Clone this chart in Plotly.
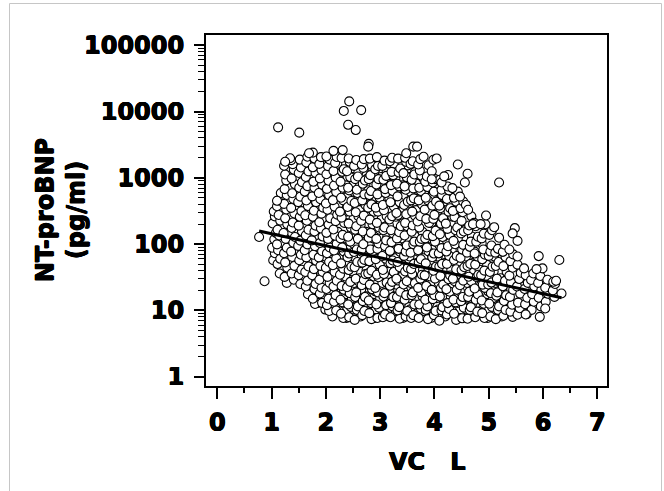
import plotly.graph_objects as go

# ---- data (VC in litres, NT-proBNP in pg/ml) ----
vc = [
    1.03, 1.06, 1.01, 1.05, 1.08, 1.02, 1.06, 1.04,
    1.15, 1.11, 1.16, 1.12, 1.10, 1.14, 1.11, 1.16, 1.13, 1.10, 1.12, 1.17,
    1.28, 1.24, 1.29, 1.25, 1.23, 1.28, 1.26, 1.22, 1.29, 1.25, 1.27, 1.23, 1.28, 1.24, 1.27, 1.25, 1.23,
    1.41, 1.37, 1.42, 1.38, 1.36, 1.40, 1.43, 1.37, 1.39, 1.42, 1.36, 1.40, 1.38, 1.43, 1.37, 1.41, 1.39, 1.36,
    1.53, 1.50, 1.55, 1.51, 1.54, 1.49, 1.53, 1.56, 1.50, 1.52, 1.55, 1.49, 1.53, 1.51, 1.56, 1.50, 1.54, 1.52,
    1.67, 1.63, 1.66, 1.62, 1.68, 1.64, 1.61, 1.66, 1.63, 1.68, 1.65, 1.62, 1.67, 1.64, 1.61, 1.66, 1.63, 1.68, 1.64, 1.66,
    1.80, 1.76, 1.79, 1.81, 1.75, 1.78, 1.82, 1.77, 1.80, 1.74, 1.79, 1.81, 1.76, 1.78, 1.82, 1.75, 1.79, 1.77, 1.81, 1.76, 1.79,
    1.93, 1.89, 1.92, 1.88, 1.94, 1.90, 1.87, 1.93, 1.89, 1.94, 1.91, 1.88, 1.92, 1.95, 1.90, 1.87, 1.93, 1.89, 1.92, 1.88, 1.91,
    2.06, 2.02, 2.05, 2.01, 2.07, 2.03, 2.00, 2.06, 2.02, 2.07, 2.04, 2.01, 2.05, 2.08, 2.03, 2.00, 2.06, 2.02, 2.05, 2.01, 2.04, 2.07,
    2.19, 2.15, 2.18, 2.14, 2.20, 2.16, 2.13, 2.19, 2.15, 2.20, 2.17, 2.14, 2.18, 2.21, 2.16, 2.13, 2.19, 2.15, 2.18, 2.14, 2.17, 2.20,
    2.32, 2.28, 2.31, 2.27, 2.33, 2.29, 2.26, 2.32, 2.28, 2.33, 2.30, 2.27, 2.31, 2.34, 2.29, 2.26, 2.32, 2.28, 2.31, 2.27, 2.30, 2.33, 2.29,
    2.43, 2.46, 2.41, 2.44, 2.39, 2.45, 2.42, 2.47, 2.40, 2.43, 2.45, 2.41, 2.46, 2.42, 2.44, 2.40, 2.47, 2.43, 2.41, 2.45, 2.39, 2.44, 2.42,
    2.53, 2.57, 2.59, 2.54, 2.56, 2.60, 2.55, 2.53, 2.58, 2.52, 2.57, 2.59, 2.54, 2.56, 2.60, 2.55, 2.53, 2.58, 2.57, 2.54, 2.59, 2.52, 2.56,
    2.67, 2.71, 2.68, 2.72, 2.66, 2.70, 2.73, 2.67, 2.71, 2.66, 2.69, 2.72, 2.68, 2.65, 2.70, 2.73, 2.67, 2.71, 2.68, 2.72, 2.69, 2.66, 2.70,
    2.84, 2.80, 2.83, 2.79, 2.85, 2.81, 2.78, 2.84, 2.80, 2.85, 2.82, 2.79, 2.83, 2.86, 2.81, 2.78, 2.84, 2.80, 2.83, 2.79, 2.82, 2.85, 2.81,
    2.95, 2.98, 2.93, 2.96, 2.91, 2.97, 2.94, 2.99, 2.92, 2.95, 2.97, 2.93, 2.98, 2.94, 2.96, 2.92, 2.99, 2.95, 2.93, 2.97, 2.91, 2.96, 2.94,
    3.05, 3.09, 3.11, 3.06, 3.08, 3.12, 3.07, 3.05, 3.10, 3.04, 3.09, 3.11, 3.06, 3.08, 3.12, 3.07, 3.05, 3.10, 3.09, 3.06, 3.11, 3.04, 3.08,
    3.19, 3.23, 3.20, 3.24, 3.18, 3.22, 3.25, 3.19, 3.23, 3.18, 3.21, 3.24, 3.20, 3.17, 3.22, 3.25, 3.19, 3.23, 3.20, 3.24, 3.21, 3.18, 3.22,
    3.36, 3.32, 3.35, 3.31, 3.37, 3.33, 3.30, 3.36, 3.32, 3.37, 3.34, 3.31, 3.35, 3.38, 3.33, 3.30, 3.36, 3.32, 3.35, 3.31, 3.34, 3.37, 3.33,
    3.47, 3.50, 3.45, 3.48, 3.43, 3.49, 3.46, 3.51, 3.44, 3.47, 3.49, 3.45, 3.50, 3.46, 3.48, 3.44, 3.51, 3.47, 3.45, 3.49, 3.43, 3.48, 3.46,
    3.57, 3.61, 3.63, 3.58, 3.60, 3.64, 3.59, 3.57, 3.62, 3.56, 3.61, 3.63, 3.58, 3.60, 3.64, 3.59, 3.57, 3.62, 3.61, 3.58, 3.63, 3.56, 3.60,
    3.71, 3.75, 3.72, 3.76, 3.70, 3.74, 3.77, 3.71, 3.75, 3.70, 3.73, 3.76, 3.72, 3.69, 3.74, 3.77, 3.71, 3.75, 3.72, 3.76, 3.73, 3.70, 3.74,
    3.88, 3.84, 3.87, 3.83, 3.89, 3.85, 3.82, 3.88, 3.84, 3.89, 3.86, 3.83, 3.87, 3.90, 3.85, 3.82, 3.88, 3.84, 3.87, 3.83, 3.86, 3.89,
    3.99, 4.02, 3.97, 4.00, 3.95, 4.01, 3.98, 4.03, 3.96, 3.99, 4.01, 3.97, 4.02, 3.98, 4.00, 3.96, 4.03, 3.99, 3.97, 4.01, 3.95,
    4.09, 4.13, 4.15, 4.10, 4.12, 4.16, 4.11, 4.09, 4.14, 4.08, 4.13, 4.15, 4.10, 4.12, 4.16, 4.11, 4.09, 4.14, 4.13, 4.10,
    4.23, 4.27, 4.24, 4.28, 4.22, 4.26, 4.29, 4.23, 4.27, 4.22, 4.25, 4.28, 4.24, 4.21, 4.26, 4.29, 4.23, 4.27, 4.24,
    4.40, 4.36, 4.39, 4.35, 4.41, 4.37, 4.34, 4.40, 4.36, 4.41, 4.38, 4.35, 4.39, 4.42, 4.37, 4.34, 4.40, 4.36,
    4.51, 4.54, 4.49, 4.52, 4.47, 4.53, 4.50, 4.55, 4.48, 4.51, 4.53, 4.49, 4.54, 4.50, 4.52, 4.48,
    4.61, 4.65, 4.67, 4.62, 4.64, 4.68, 4.63, 4.61, 4.66, 4.60, 4.65, 4.67, 4.62, 4.64, 4.68,
    4.75, 4.79, 4.76, 4.80, 4.74, 4.78, 4.81, 4.75, 4.79, 4.74, 4.77, 4.80, 4.76, 4.73,
    4.92, 4.88, 4.91, 4.87, 4.93, 4.89, 4.86, 4.92, 4.88, 4.93, 4.90, 4.87, 4.91, 4.94,
    5.03, 5.06, 5.01, 5.04, 4.99, 5.05, 5.02, 5.07, 5.00, 5.03, 5.05, 5.01, 5.06,
    5.13, 5.17, 5.19, 5.14, 5.16, 5.20, 5.15, 5.13, 5.18, 5.12, 5.17, 5.19,
    5.27, 5.31, 5.28, 5.32, 5.26, 5.30, 5.33, 5.27, 5.31, 5.26, 5.29,
    5.44, 5.40, 5.43, 5.39, 5.45, 5.41, 5.38, 5.44, 5.40, 5.45,
    5.53, 5.57, 5.54, 5.58, 5.52, 5.56, 5.59, 5.53,
    5.70, 5.67, 5.71, 5.66, 5.72, 5.68, 5.65,
    5.79, 5.83, 5.80, 5.84, 5.78, 5.82,
    5.96, 5.92, 5.97, 5.91, 5.95,
    6.05, 6.09, 6.04, 6.08,
    6.21, 6.18, 6.22,
]
bnp = [
    57, 73, 88, 118, 148, 205, 262, 310,
    36, 50, 60, 81, 99, 135, 165, 226, 275, 372, 455, 590,
    26, 32, 44, 53, 73, 88, 120, 147, 200, 245, 333, 405, 550, 675, 915, 1120, 1520,
    29, 36, 47, 64, 77, 105, 128, 175, 212, 290, 352, 480, 585, 800, 975, 1320, 1610, 1850,
    25, 34, 41, 57, 69, 94, 113, 156, 190, 258, 315, 430, 520, 710, 860, 1180, 1430, 1880,
    17.5, 23, 28, 38, 46, 63, 81, 99, 136, 165, 225, 272, 375, 455, 620, 750, 1030, 1250, 1700, 2080,
    12.5, 15, 21, 25, 34, 42, 56, 69, 93, 114, 155, 190, 258, 318, 430, 525, 710, 870, 1180, 1440, 1950,
    13, 18, 22, 29, 38, 47, 63, 78, 104, 130, 172, 214, 288, 355, 475, 590, 790, 980, 1310, 1620, 2050,
    9.8, 12, 15, 21, 26, 32, 44, 54, 73, 89, 120, 148, 198, 245, 330, 410, 545, 680, 905, 1130, 1500, 1880,
    10, 13.5, 17, 23, 28, 38, 48, 61, 80, 101, 134, 166, 222, 278, 368, 460, 610, 765, 1010, 1270, 1680, 2060,
    7.7, 8.9, 13.2, 14.5, 20.5, 23.4, 34.5, 42.7, 51.3, 77.8, 88.9, 122, 138, 209, 251, 309, 457, 501, 708, 870, 1231, 1349, 1995,
    7.9, 11.3, 12.3, 18.2, 22.4, 26.9, 40.6, 45.8, 63.4, 72, 109, 129, 178, 204, 309, 363, 447, 646, 708, 1023, 1258, 1738, 1958,
    7.2, 10.2, 11.5, 15.9, 18.7, 27.6, 30.1, 44.7, 53.7, 76.1, 83, 120, 165, 186, 263, 302, 417, 589, 661, 955, 1047, 1513, 1861,
    8.5, 9.8, 13.8, 15.9, 24, 28.8, 35.3, 52.6, 57.8, 82.7, 99.7, 145, 155, 224, 269, 389, 457, 563, 812, 912, 1412, 1585, 1913,
    7.4, 9.1, 12.9, 14.1, 20.9, 24.5, 36.2, 39.8, 55, 74.3, 83, 125, 148, 199, 234, 355, 398, 549, 631, 955, 1096, 1549, 1949,
    7.7, 11, 12.3, 18.7, 21.9, 31.6, 34.5, 49.1, 59.2, 84.7, 102, 120, 178, 209, 309, 355, 502, 563, 794, 955, 1349, 1514, 2050,
    7.9, 8.7, 12, 16.2, 18.2, 26.3, 35.4, 40.8, 60.3, 66.2, 93.1, 114, 162, 178, 263, 324, 389, 589, 676, 933, 1071, 1513, 1819,
    7.9, 11.5, 12.9, 15.9, 23.5, 26.9, 37.9, 51.5, 56.5, 79, 107, 145, 162, 235, 263, 371, 427, 631, 776, 1096, 1230, 1780, 2003,
    7.5, 10, 11.2, 15.9, 19.1, 28.2, 30.1, 44.7, 53.7, 76.1, 84.9, 122, 151, 186, 275, 295, 427, 525, 742, 813, 1202, 1380, 1949,
    8.1, 9.8, 14.5, 17, 24.6, 27.5, 38.7, 43.8, 66.5, 77.2, 95.2, 135, 186, 209, 282, 389, 437, 661, 741, 1023, 1175, 1738, 2003,
    7.7, 8.5, 12.3, 17, 18.7, 25.7, 35.4, 41.7, 50.2, 74.3, 99.7, 109, 154, 191, 269, 309, 457, 490, 692, 933, 1122, 1621, 1778,
    7.7, 10.7, 12.3, 18.7, 21.9, 30.2, 34.5, 52.6, 59.2, 80.8, 109, 120, 178, 219, 263, 398, 457, 631, 708, 1072, 1288, 1585, 1913,
    7.4, 10.2, 11.5, 14.5, 21.4, 23.4, 33.8, 44.7, 51.3, 77.8, 88.9, 122, 138, 209, 240, 331, 457, 501, 725, 870, 1047, 1549,
    8.5, 9.8, 14.8, 17, 20.4, 30.2, 39.7, 45.8, 63.4, 72, 109, 132, 159, 240, 276, 380, 437, 617, 851, 955, 1258,
    7.0, 10, 11.2, 16.2, 21.9, 24.5, 33, 45.8, 50.2, 72.6, 86.9, 128, 141, 204, 245, 347, 380, 549, 661, 933,
    8.7, 10.5, 12.9, 19.1, 20.9, 29.5, 33.7, 50.3, 66.5, 77.2, 93, 138, 170, 204, 309, 347, 479, 646, 741,
    7.2, 8.9, 13.2, 14.5, 20.5, 27.6, 30.1, 41.7, 57.6, 66.2, 99.7, 112, 162, 178, 257, 317, 437, 501,
    7.6, 11, 13.8, 15.9, 24, 28.1, 40.6, 44.8, 62, 82.7, 97.4, 145, 155, 224, 302, 347,
    7.5, 10.2, 11.2, 15.9, 19.1, 27.6, 32.2, 46.8, 50.2, 74.3, 91, 109, 162, 191, 263,
    7.9, 9.6, 14.5, 17.4, 21.4, 31.6, 34.5, 49.1, 64.9, 72, 109, 129, 186, 209,
    7.7, 9.1, 12.6, 14.1, 21.9, 24.5, 33.8, 39.8, 59, 69.4, 83, 122, 144, 199,
    8.1, 11.3, 12.6, 18.2, 24.6, 26.3, 37.9, 45.8, 66.5, 77.2, 95.2, 138, 162,
    7.4, 10.2, 11.5, 16.6, 18.7, 26.9, 30.1, 46.8, 53.7, 74.3, 84.9, 125,
    8.3, 10.2, 13.9, 16.9, 23.1, 27.9, 38.2, 46.5, 64.0, 76.5, 98,
    8.0, 9.6, 12.2, 16.0, 20.4, 26.5, 33.5, 44.1, 55.3, 70,
    8.6, 10.8, 13.1, 17.9, 23, 29.7, 37, 49,
    8.8, 12.4, 15.5, 21, 26, 34, 43,
    10.2, 13.5, 17.5, 23, 28.8, 36,
    11.5, 15.5, 20.5, 26, 33,
    13.5, 17.8, 22, 29,
    16, 20, 25,
]

# further subjects in the densest part of the cloud
vc_fill = [
    1.58, 1.61, 1.57, 1.60, 1.62, 1.58, 1.60, 1.57, 1.61,
    1.73, 1.70, 1.74, 1.71, 1.72, 1.75, 1.70, 1.73, 1.71, 1.74,
    1.86, 1.83, 1.87, 1.84, 1.85, 1.88, 1.83, 1.86, 1.84, 1.87, 1.85,
    1.99, 1.96, 2.00, 1.97, 1.98, 2.01, 1.96, 1.99, 1.97, 2.00, 1.98, 1.96,
    2.12, 2.09, 2.13, 2.10, 2.11, 2.14, 2.09, 2.12, 2.10, 2.13, 2.11, 2.08,
    2.25, 2.22, 2.26, 2.23, 2.24, 2.27, 2.22, 2.25, 2.23, 2.26, 2.24, 2.21,
    2.38, 2.35, 2.39, 2.36, 2.37, 2.40, 2.35, 2.38, 2.36, 2.39, 2.37, 2.34,
    2.51, 2.48, 2.52, 2.49, 2.50, 2.53, 2.48, 2.51, 2.49, 2.52, 2.50, 2.47,
    2.64, 2.61, 2.65, 2.62, 2.63, 2.66, 2.61, 2.64, 2.62, 2.65, 2.63, 2.60,
    2.77, 2.74, 2.78, 2.75, 2.76, 2.79, 2.74, 2.77, 2.75, 2.78, 2.76, 2.73,
    2.90, 2.87, 2.91, 2.88, 2.89, 2.92, 2.87, 2.90, 2.88, 2.91, 2.89, 2.86,
    3.03, 3.00, 3.04, 3.01, 3.02, 3.05, 3.00, 3.03, 3.01, 3.04, 3.02, 2.99,
    3.16, 3.13, 3.17, 3.14, 3.15, 3.18, 3.13, 3.16, 3.14, 3.17, 3.15, 3.12,
    3.29, 3.26, 3.30, 3.27, 3.28, 3.31, 3.26, 3.29, 3.27, 3.30, 3.28, 3.25,
    3.42, 3.39, 3.43, 3.40, 3.41, 3.44, 3.39, 3.42, 3.40, 3.43, 3.41, 3.38,
    3.55, 3.52, 3.56, 3.53, 3.54, 3.57, 3.52, 3.55, 3.53, 3.56, 3.54, 3.51,
    3.68, 3.65, 3.69, 3.66, 3.67, 3.70, 3.65, 3.68, 3.66, 3.69, 3.67, 3.64,
    3.81, 3.78, 3.82, 3.79, 3.80, 3.83, 3.78, 3.81, 3.79, 3.82, 3.80,
    3.94, 3.91, 3.95, 3.92, 3.93, 3.96, 3.91, 3.94, 3.92, 3.95, 3.93,
    4.07, 4.04, 4.08, 4.05, 4.06, 4.09, 4.04, 4.07, 4.05, 4.08,
    4.20, 4.17, 4.21, 4.18, 4.19, 4.22, 4.17, 4.20, 4.18, 4.21,
    4.33, 4.30, 4.34, 4.31, 4.32, 4.35, 4.30, 4.33, 4.31,
    4.46, 4.43, 4.47, 4.44, 4.45, 4.48, 4.43, 4.46,
    4.59, 4.56, 4.60, 4.57, 4.58, 4.61, 4.56,
    4.72, 4.69, 4.73, 4.70, 4.71, 4.74, 4.69,
    4.85, 4.82, 4.86, 4.83, 4.84, 4.87,
    4.98, 4.95, 4.99, 4.96, 4.97, 5.00,
    5.11, 5.08, 5.12, 5.09, 5.10,
    5.24, 5.21, 5.25, 5.22, 5.23,
]
bnp_fill = [
    33, 48, 83, 122, 205, 305, 520, 770, 1300,
    24, 41, 61, 104, 152, 260, 385, 650, 970, 1620,
    13, 20.5, 30.5, 52, 77, 130, 194, 325, 485, 820, 1220,
    10.3, 15.3, 26, 38.5, 65, 97, 163, 243, 410, 612, 1030, 1540,
    8.1, 12.2, 20.6, 30.6, 51.5, 77, 130, 194, 326, 486, 818, 1220,
    9.7, 16.3, 24.3, 41, 61.2, 103, 153, 259, 386, 650, 970, 1630,
    7.7, 13, 19.4, 32.5, 48.6, 82, 122, 206, 307, 516, 770, 1300,
    10.3, 15.3, 25.9, 38.6, 65, 97, 163, 244, 410, 612, 1030, 1540,
    8.1, 12.2, 20.6, 30.6, 51.6, 77, 130, 194, 326, 486, 818, 1220,
    9.7, 16.3, 24.4, 41, 61.2, 103, 153, 259, 386, 650, 970, 1630,
    7.7, 13, 19.4, 32.5, 48.6, 82, 122, 206, 307, 516, 770, 1300,
    10.3, 15.3, 25.9, 38.6, 65, 97, 163, 244, 410, 612, 1030, 1540,
    8.1, 12.2, 20.6, 30.6, 51.6, 77, 130, 194, 326, 486, 818, 1220,
    9.7, 16.3, 24.4, 41, 61.2, 103, 153, 259, 386, 650, 970, 1630,
    7.7, 13, 19.4, 32.5, 48.6, 82, 122, 206, 307, 516, 770, 1300,
    10.3, 15.3, 25.9, 38.6, 65, 97, 163, 244, 410, 612, 1030, 1540,
    8.1, 12.2, 20.6, 30.6, 51.6, 77, 130, 194, 326, 486, 818, 1220,
    9.7, 16.3, 24.4, 41, 61.2, 103, 153, 259, 386, 650, 970,
    7.7, 13, 19.4, 32.5, 48.6, 82, 122, 206, 307, 516, 770,
    10.3, 15.3, 25.9, 38.6, 65, 97, 163, 244, 410, 612,
    8.1, 12.2, 20.6, 30.6, 51.6, 77, 130, 194, 326, 486,
    9.7, 16.3, 24.4, 41, 61.2, 103, 153, 259, 386,
    7.7, 13, 19.4, 32.5, 48.6, 82, 122, 206,
    10.3, 15.3, 25.9, 38.6, 65, 97, 163,
    8.1, 12.2, 20.6, 30.6, 51.6, 77, 130,
    9.7, 16.3, 24.4, 41, 61.2, 103,
    7.7, 13, 19.4, 32.5, 48.6, 82,
    10.3, 15.3, 25.9, 38.6, 65,
    8.1, 12.2, 20.6, 30.6, 51.6,
]

vc_out = [0.77, 0.87, 1.12, 1.51, 2.43, 2.33, 2.65, 2.41, 2.55, 2.79,
          2.78, 1.76, 1.69, 2.14, 2.31, 2.01, 1.34, 1.25, 3.61, 3.68,
          3.48, 3.80, 3.98, 4.04, 4.43, 4.25, 4.61, 4.56, 5.19, 3.95,
          4.13, 4.43, 4.53, 4.58, 4.71, 4.85, 5.10, 5.48, 5.44, 5.53,
          5.38, 5.53, 5.92, 6.30, 5.99, 5.88, 6.19, 6.24, 6.34, 5.94,
          5.68, 6.04, 4.18, 4.33, 4.47, 4.62, 4.95, 1.10]
bnp_out = [128, 27.5, 5770, 4800, 14200, 10200, 10500, 6300, 5250, 3250,
           2950, 2400, 2350, 2550, 2620, 2100, 1970, 1750, 2950, 2950,
           2350, 2080, 1870, 1960, 1590, 1100, 1150, 850, 850, 950,
           850, 620, 440, 390, 200, 200, 180, 174, 145, 112,
           83, 65, 66, 57.5, 43, 42, 27, 28, 18, 8.0,
           8.7, 10.7, 1050, 700, 520, 330, 270, 450]

fit_vc = [0.77, 6.34]
fit_bnp = [158, 15.5]

x_ticks = [0, 1, 2, 3, 4, 5, 6, 7]
y_ticks = [1, 10, 100, 1000, 10000, 100000]
y_ticktext = ["1", "10", "100", "1000", "10000", "100000"]

assert len(vc) == len(bnp), (len(vc), len(bnp))
assert len(vc_fill) == len(bnp_fill), (len(vc_fill), len(bnp_fill))
assert len(vc_out) == len(bnp_out)

FONT = "DejaVu Sans"
HEAVY = "0.45px 0 0 black, -0.45px 0 0 black, 0 0.35px 0 black, 0 -0.35px 0 black"
marker_style = dict(symbol="circle", size=9, color="white",
                    line=dict(color="black", width=1.1))

fig = go.Figure()
fig.add_trace(go.Scatter(x=vc_fill + vc + vc_out, y=bnp_fill + bnp + bnp_out,
                         mode="markers", marker=marker_style,
                         showlegend=False, hoverinfo="skip"))
fig.add_trace(go.Scatter(x=fit_vc, y=fit_bnp, mode="lines",
                         line=dict(color="black", width=3), showlegend=False))

y_minor = [m * 10 ** k for k in range(0, 5) for m in range(2, 10)]
x_minor = [t + 0.5 for t in x_ticks[:-1]]

tickfont = dict(family=FONT, size=24, color="black", weight="bold", shadow=HEAVY)
titlefont = dict(family=FONT, size=24, color="black", weight="bold", shadow=HEAVY)

fig.update_layout(
    width=664, height=491,
    margin=dict(l=206, r=57, t=35, b=105, pad=0),
    paper_bgcolor="white", plot_bgcolor="white",
    font=dict(family=FONT, color="black"),
    xaxis=dict(range=[-0.208, 7.178], tickmode="array", tickvals=x_ticks,
               ticks="outside", ticklen=11, tickwidth=2, tickcolor="black",
               showline=True, linewidth=2, linecolor="black", mirror=True,
               showgrid=False, zeroline=False, tickfont=tickfont,
               ticklabelstandoff=3,
               minor=dict(tickvals=x_minor, ticks="outside", ticklen=5,
                          tickwidth=1.5, tickcolor="black", showgrid=False)),
    yaxis=dict(type="log", range=[-0.140, 5.154], tickmode="array",
               tickvals=y_ticks, ticktext=y_ticktext,
               ticks="outside", ticklen=10, tickwidth=2, tickcolor="black",
               showline=True, linewidth=2, linecolor="black", mirror=True,
               showgrid=False, zeroline=False, tickfont=tickfont,
               ticklabelstandoff=5,
               minor=dict(tickvals=y_minor, ticks="outside", ticklen=6,
                          tickwidth=1, tickcolor="black", showgrid=False)),
    annotations=[
        dict(text="NT-proBNP<br>(pg/ml)", textangle=-90, xref="paper", yref="paper",
             x=-0.3624, y=0.5, xanchor="center", yanchor="middle", showarrow=False,
             font=titlefont),
        dict(text="VC\u00a0\u00a0\u00a0L", xref="paper", yref="paper",
             x=0.5536, y=-0.2157, xanchor="center", yanchor="middle", showarrow=False,
             font=titlefont),
    ],
    shapes=[
        dict(type="line", xref="paper", yref="paper", x0=-0.4900, x1=1.1359,
             y0=1.0897, y1=1.0897, line=dict(color="#c6c6c6", width=1)),
        dict(type="line", xref="paper", yref="paper", x0=-0.4900, x1=-0.4900,
             y0=-0.32, y1=1.0897, line=dict(color="#c6c6c6", width=1)),
        dict(type="line", xref="paper", yref="paper", x0=1.1359, x1=1.1359,
             y0=-0.32, y1=1.0897, line=dict(color="#c6c6c6", width=1)),
    ],
)

fig.write_html("out.html")
